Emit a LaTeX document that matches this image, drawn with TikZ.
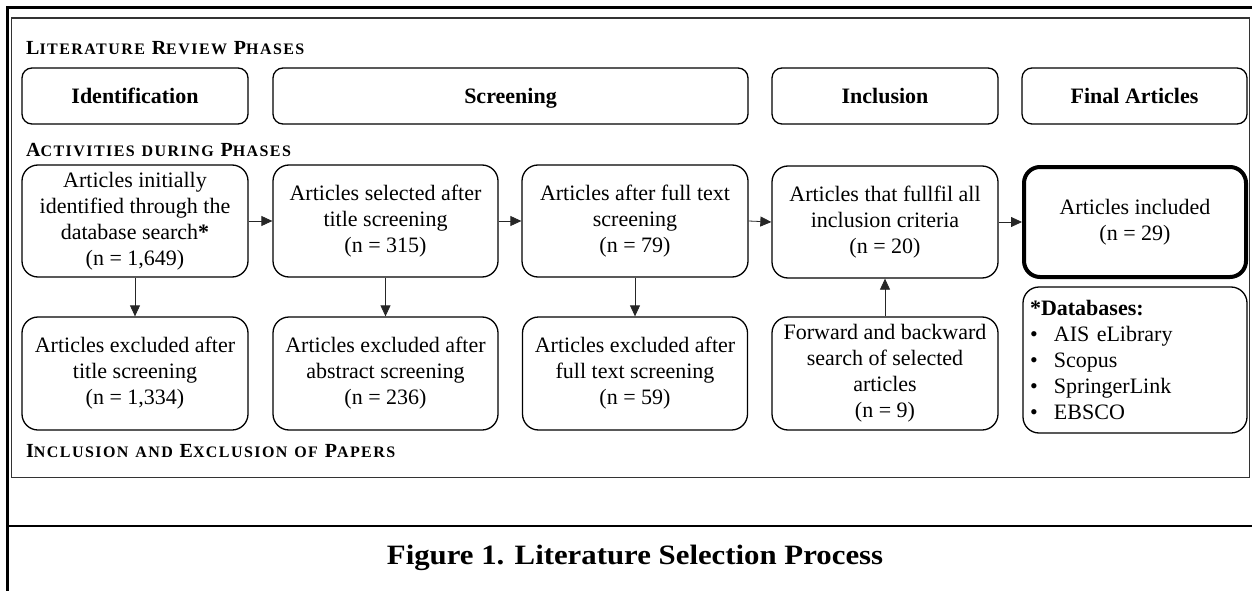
\documentclass[tikz,border=0pt]{standalone}
\usepackage{fontspec}
\usepackage{graphicx}
\setmainfont{Liberation Serif}
\newfontfamily\scfont[LetterSpace=9]{Liberation Serif}
\usetikzlibrary{arrows.meta}
\newcommand\bigC[1]{{\fontsize{20}{20}\selectfont #1}}
\newcommand\smC[1]{{\fontsize{16}{16}\selectfont #1}}
\begin{document}
\begin{tikzpicture}[x=1pt,y=-1pt,
  box/.style={draw, line width=1.3pt, rounded corners=16pt, align=center, inner sep=2pt,
    font=\fontsize{22}{26}\selectfont},
  phase/.style={draw, line width=1.3pt, rounded corners=10pt, align=center,
    minimum width=226pt, minimum height=56pt, text height=17pt, text depth=3pt,
    font=\fontsize{22}{26}\selectfont\bfseries},
  arr/.style={line width=0.8pt, draw=black!85, -{Triangle[length=11pt,width=10pt]}},
  sectlab/.style={anchor=base west, inner sep=0pt, font=\scfont\bfseries\fontsize{20}{20}\selectfont},
]
\useasboundingbox (0,0) rectangle (1252,591);
% frames
\draw[line width=2.5pt] (7.5,591) -- (7.5,7.3) -- (1252,7.3);
\draw[line width=2.5pt] (7.5,526) -- (1252,526);
\draw[line width=1.5pt, black!80] (11.5,18.2) rectangle (1249.5,477.5);

% section labels
\node[sectlab] (t1) at (26,55) {\bigC{L}\smC{ITERATURE} \bigC{R}\smC{EVIEW} \bigC{P}\smC{HASES}};
\node[sectlab] (t2) at (26,156) {\bigC{A}\smC{CTIVITIES} \smC{DURING} \bigC{P}\smC{HASES}};
\node[sectlab] (t3) at (26,457) {\bigC{I}\smC{NCLUSION} \smC{AND} \bigC{E}\smC{XCLUSION} \smC{OF} \bigC{P}\smC{APERS}};

% phases
\node[phase] (p1) at (135,96) {Identification};
\node[phase, minimum width=475pt] (p2) at (510.5,96) {Screening};
\node[phase] (p3) at (885,96) {Inclusion};
\node[phase, minimum width=225pt] (p4) at (1134.5,96) {Final Articles};

% activities
\node[box, minimum width=226pt, minimum height=112pt] (a1) at (135,221)
  {Articles initially\\identified through the\\database search\textbf{*}\\(n = 1,649)};
\node[box, minimum width=225pt, minimum height=112pt] (a2) at (385.5,221)
  {Articles selected after\\title screening\\(n = 315)};
\node[box, minimum width=226pt, minimum height=112pt] (a3) at (635,221)
  {Articles after full text\\screening\\(n = 79)};
\node[box, minimum width=226pt, minimum height=112pt] (a4) at (885,222)
  {Articles that fullfil all\\inclusion criteria\\(n = 20)};
\node[box, line width=4pt, minimum width=222pt, minimum height=110pt] (a5) at (1135,222)
  {Articles included\\(n = 29)};

% bottom row
\node[box, minimum width=226pt, minimum height=113pt] (b1) at (135,373.5)
  {Articles excluded after\\title screening\\(n = 1,334)};
\node[box, minimum width=225pt, minimum height=113pt] (b2) at (385.5,373.5)
  {Articles excluded after\\abstract screening\\(n = 236)};
\node[box, minimum width=225pt, minimum height=113pt] (b3) at (635,373.5)
  {Articles excluded after\\full text screening\\(n = 59)};
\node[box, minimum width=226pt, minimum height=113pt] (b4) at (885,373.5)
  {Forward and backward\\search of selected\\articles\\(n = 9)};
\node[box, minimum width=224pt, minimum height=146pt, align=left, text width=210pt] (db) at (1135,360)
  {\textbf{*Databases:}\\\makebox[24pt][l]{\textbullet}AIS eLibrary\\\makebox[24pt][l]{\textbullet}Scopus\\\makebox[24pt][l]{\textbullet}SpringerLink\\\makebox[24pt][l]{\textbullet}EBSCO};

% arrows
\draw[arr] (a1.east) -- (a2.west);
\draw[arr] (a2.east) -- (a3.west);
\draw[arr] (a3.east) -- (a4.west);
\draw[arr] (a4.east) -- (a5.west);
\draw[arr] (a1.south) -- (b1.north);
\draw[arr] (a2.south) -- (b2.north);
\draw[arr] (a3.south) -- (b3.north);
\draw[arr] (b4.north) -- (a4.south);

% caption
\node[font=\bfseries\fontsize{28}{30}\selectfont] (cap) at (635,558)
  {\scalebox{1.1}[1]{Figure 1. Literature Selection Process}};
\end{tikzpicture}
\end{document}
